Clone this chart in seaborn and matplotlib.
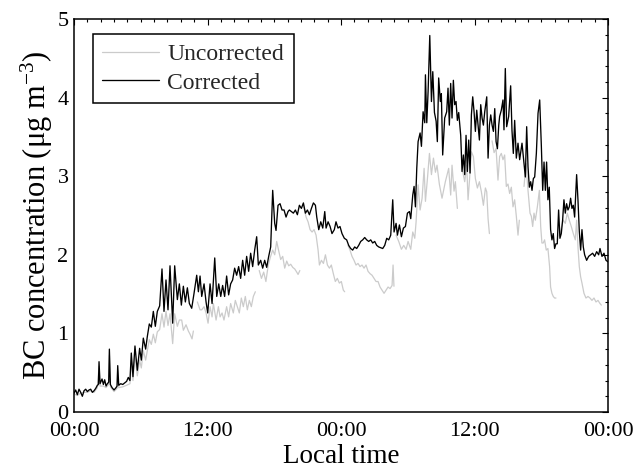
import numpy as np
import pandas as pd
import matplotlib
matplotlib.use("Agg")
import matplotlib.pyplot as plt
import seaborn as sns
from matplotlib.ticker import MultipleLocator, FixedLocator, FixedFormatter
from matplotlib.lines import Line2D

# ---------------- data (hours since first midnight, BC in ug m-3) ----------------
cor_hours = [
    0.00, 0.15, 0.30, 0.45, 0.60, 0.75, 0.90, 1.05, 1.20, 1.35, 1.50, 1.65, 1.80, 1.95,
    2.10, 2.19, 2.25, 2.34, 2.52, 2.64, 2.76, 2.88, 3.00, 3.12, 3.18, 3.27, 3.42, 3.60,
    3.78, 3.87, 3.93, 4.02, 4.20, 4.38, 4.55, 4.73, 4.88, 5.03, 5.15, 5.30, 5.48, 5.69,
    5.90, 6.05, 6.23, 6.44, 6.59, 6.77, 6.95, 7.13, 7.31, 7.49, 7.70, 7.91, 8.09, 8.27,
    8.45, 8.63, 8.87, 9.05, 9.29, 9.47, 9.65, 9.83, 10.01, 10.19, 10.37, 10.58, 10.79,
    11.03, 11.18, 11.33, 11.48, 11.69, 11.87, 12.02, 12.23, 12.41, 12.65, 12.83, 13.01,
    13.19, 13.36, 13.54, 13.72, 13.90, 14.08, 14.26, 14.44, 14.62, 14.80, 14.98, 15.16,
    15.34, 15.52, 15.70, 15.88, 16.06, 16.24, 16.42, 16.57, 16.78, 16.96, 17.14, 17.32,
    17.50, 17.68, 17.86, 18.04, 18.16, 18.34, 18.52, 18.70, 18.88, 19.06, 19.24, 19.36,
    19.54, 19.72, 19.90, 20.08, 20.26, 20.44, 20.62, 20.80, 20.98, 21.16, 21.34, 21.52,
    21.70, 21.82, 22.00, 22.18, 22.36, 22.54, 22.66, 22.84, 23.02, 23.19, 23.40, 23.55,
    23.73, 23.91, 24.09, 24.30, 24.51, 24.69, 24.87, 25.05, 25.23, 25.41, 25.59, 25.77,
    25.95, 26.13, 26.31, 26.49, 26.67, 26.85, 27.03, 27.21, 27.39, 27.57, 27.75, 27.93,
    28.11, 28.29, 28.47, 28.65, 28.77, 28.95, 29.07, 29.25, 29.43, 29.61, 29.79, 29.97,
    30.15, 30.27, 30.45, 30.57, 30.69, 30.81, 30.93, 31.11, 31.23, 31.38, 31.53, 31.59,
    31.71, 31.83, 31.98, 32.13, 32.25, 32.40, 32.55, 32.66, 32.78, 32.93, 33.02, 33.14,
    33.32, 33.50, 33.62, 33.74, 33.86, 33.98, 34.10, 34.22, 34.34, 34.46, 34.58, 34.76,
    34.88, 35.00, 35.12, 35.24, 35.36, 35.48, 35.60, 35.72, 35.84, 35.96, 36.08, 36.20,
    36.32, 36.44, 36.56, 36.68, 36.80, 36.92, 37.10, 37.22, 37.34, 37.46, 37.58, 37.70,
    37.82, 37.94, 38.06, 38.18, 38.26, 38.41, 38.56, 38.65, 38.77, 38.89, 39.07, 39.25,
    39.37, 39.49, 39.61, 39.76, 39.91, 40.06, 40.27, 40.45, 40.57, 40.69, 40.81, 40.93,
    41.05, 41.17, 41.29, 41.41, 41.56, 41.71, 41.86, 42.01, 42.13, 42.25, 42.37, 42.48,
    42.60, 42.72, 42.84, 42.96, 43.08, 43.20, 43.32, 43.44, 43.56, 43.68, 43.80, 43.92,
    44.04, 44.16, 44.28, 44.40, 44.52, 44.64, 44.76, 44.88, 45.00, 45.18, 45.30, 45.42,
    45.54, 45.66, 45.78, 45.90, 46.08, 46.26, 46.44, 46.62, 46.80, 46.98, 47.16, 47.28,
    47.46, 47.64, 47.82, 48.00,
]
cor_values = [
    0.24, 0.28, 0.22, 0.29, 0.25, 0.20, 0.27, 0.29, 0.26, 0.28, 0.29, 0.25, 0.27, 0.30,
    0.34, 0.35, 0.64, 0.36, 0.42, 0.35, 0.41, 0.33, 0.36, 0.38, 0.80, 0.35, 0.31, 0.28,
    0.31, 0.33, 0.59, 0.34, 0.36, 0.35, 0.37, 0.39, 0.44, 0.40, 0.75, 0.45, 0.84, 0.53,
    0.81, 0.66, 0.94, 0.80, 0.96, 1.12, 1.08, 1.28, 1.09, 1.28, 1.35, 1.82, 1.28, 1.68,
    1.30, 1.86, 1.13, 1.86, 1.43, 1.63, 1.36, 1.60, 1.40, 1.58, 1.38, 1.32, 1.51,
    1.74, 1.53, 1.73, 1.47, 1.63, 1.40, 1.26, 1.63, 1.38, 1.96, 1.47, 1.63,
    1.47, 1.61, 1.47, 1.73, 1.49, 1.63, 1.68, 1.83, 1.74, 1.85, 1.70, 1.93,
    1.74, 1.98, 1.79, 2.02, 1.85, 2.06, 2.23, 1.87, 1.93, 1.83, 1.93, 1.84,
    1.98, 2.10, 2.82, 2.40, 2.31, 2.63, 2.65, 2.57, 2.57, 2.48, 2.55, 2.57,
    2.55, 2.53, 2.57, 2.51, 2.63, 2.59, 2.66, 2.53, 2.57, 2.51, 2.59, 2.66,
    2.63, 2.48, 2.32, 2.42, 2.34, 2.55, 2.34, 2.42, 2.36, 2.27, 2.32, 2.42,
    2.34, 2.36, 2.27, 2.21, 2.19, 2.12, 2.08, 2.06, 2.10, 2.08, 2.12, 2.17,
    2.19, 2.22, 2.19, 2.17, 2.19, 2.15, 2.17, 2.12, 2.10, 2.09, 2.08, 2.12,
    2.21, 2.19, 2.25, 2.70, 2.29, 2.40, 2.25, 2.38, 2.23, 2.34, 2.36, 2.53,
    2.55, 2.46, 2.76, 2.87, 2.61, 3.10, 3.44, 3.55, 3.38, 3.82, 3.68, 4.29,
    3.68, 4.08, 4.79, 3.95, 4.33, 3.81, 3.70, 3.44, 4.25, 3.95, 4.05, 3.27,
    3.74, 3.82, 4.12, 3.65, 4.18, 3.74, 4.22, 3.91, 3.95, 3.71, 3.81, 3.52,
    3.06, 3.27, 3.02, 3.52, 3.06, 3.46, 3.04, 3.78, 4.01, 3.82, 3.57, 3.84,
    3.65, 3.46, 3.91, 3.74, 3.65, 3.82, 4.01, 3.23, 3.65, 3.78, 3.65, 3.57,
    3.86, 3.44, 3.35, 3.65, 3.76, 3.84, 3.97, 3.59, 4.37, 3.63, 3.76, 4.15,
    3.58, 3.29, 3.71, 3.23, 3.42, 3.21, 3.42, 3.16, 2.99, 3.63, 3.12, 2.86,
    2.93, 2.82, 2.97, 2.99, 3.29, 3.80, 3.97, 3.38, 2.82, 3.18, 2.82, 3.18,
    2.70, 2.86, 2.32, 2.19, 2.27, 2.08, 2.14, 2.14, 2.57, 2.21, 2.27, 2.44,
    2.70, 2.53, 2.65, 2.57, 2.61, 2.72, 2.59, 2.63, 2.48, 3.02, 2.70, 2.30,
    2.06, 2.32, 2.10, 2.00, 1.93, 1.98, 2.00, 2.02, 1.98, 2.04, 2.00, 2.08,
    1.98, 2.02, 1.93, 1.91,
]

# uncorrected: NaN marks the breaks between filter spots
nan = float("nan")
unc_hours = [
    0.00, 0.30, 0.60, 0.90, 1.20, 1.50, 1.80, 2.10, 2.25, 2.34, 2.64, 2.88, 3.12, 3.18,
    3.27, 3.60, 3.87, 3.93, 4.02, 4.38, 4.73, 5.03, 5.15, 5.30, 5.48, 5.69, 5.90, 6.05,
    6.23, 6.44, 6.59, 6.77, 6.95, 7.13, 7.31, 7.49, 7.70, 7.91, 8.09, 8.27, 8.45, 8.63,
    8.87, 9.05, 9.29, 9.47, 9.68, 9.83, 10.07, 10.28, 10.43, 10.61, 10.73, 10.85,
    11.09, 11.33, 11.48, 11.69, 11.87, 12.05, 12.23, 12.41, 12.53, 12.77, 12.98, 13.13,
    13.31, 13.48, 13.72, 13.90, 14.08, 14.32, 14.50, 14.68, 14.86, 15.04, 15.22, 15.40,
    15.58, 15.76, 15.94, 16.12, 16.30, 16.45,
    16.65, 16.85, 17.05, 17.25, 17.45, 17.65, 17.86, 18.04, 18.22, 18.40, 18.58, 18.76,
    18.94, 19.12, 19.30, 19.48, 19.66, 19.84, 20.02, 20.14, 20.30, 20.45,
    20.62, 20.86, 21.04, 21.22, 21.40, 21.58, 21.76, 21.94, 22.06, 22.24, 22.42, 22.60,
    22.78, 22.96, 23.13, 23.31, 23.49, 23.67, 23.85, 24.03, 24.21, 24.33, 24.45,
    24.63, 24.81, 24.99, 25.17, 25.35, 25.53, 25.71, 25.89, 26.07, 26.25, 26.43, 26.61,
    26.79, 26.97, 27.15, 27.33, 27.51, 27.69, 27.87, 28.05, 28.23, 28.41, 28.59, 28.68,
    28.76, 28.85,
    28.95, 29.19, 29.43, 29.64, 29.85, 30.03, 30.27, 30.45, 30.63, 30.75, 30.93, 31.11,
    31.29, 31.47, 31.59, 31.77, 31.95, 32.13, 32.31, 32.49, 32.63, 32.84, 33.08, 33.38,
    33.68, 33.86, 33.98, 34.16, 34.28, 34.46, 34.65,
    34.94, 35.12, 35.30, 35.42, 35.54, 35.72, 35.90, 36.08, 36.26, 36.44, 36.62, 36.80,
    36.98, 37.10, 37.22, 37.34, 37.45,
    37.58, 37.76, 37.94, 38.11, 38.26, 38.41, 38.56, 38.71, 38.86, 39.01, 39.16, 39.31,
    39.46, 39.61, 39.76, 39.91, 40.03, 40.15,
    40.45, 40.63, 40.81, 40.99, 41.11, 41.23, 41.35, 41.47, 41.65, 41.83, 41.95, 42.06,
    42.18, 42.30, 42.45, 42.60, 42.75, 42.84, 42.96, 43.08, 43.20, 43.32, 43.45,
    43.62, 43.80, 43.98, 44.16, 44.34, 44.52, 44.70, 44.88, 45.06, 45.18, 45.30, 45.42,
    45.54, 45.66, 45.84, 46.02, 46.20, 46.38, 46.56, 46.74, 46.92, 47.10, 47.28, 47.40,
]
unc_values = [
    0.23, 0.21, 0.24, 0.25, 0.25, 0.27, 0.25, 0.31, 0.58, 0.33, 0.33, 0.31, 0.35, 0.72,
    0.32, 0.26, 0.30, 0.53, 0.31, 0.32, 0.34, 0.36, 0.66, 0.40, 0.72, 0.46, 0.66, 0.56,
    0.78, 0.66, 0.78, 0.92, 0.86, 0.99, 0.88, 1.02, 1.05, 1.25, 1.08, 1.28, 1.10, 1.25,
    0.87, 1.25, 1.09, 1.17, 1.17, 1.04, 1.11, 1.03, 0.99, 0.93, 1.03, nan,
    1.40, 1.30, 1.30, 1.34, 1.26, 1.13, 1.34, 1.21, 1.38, 1.17, 1.34, 1.21,
    1.26, 1.17, 1.34, 1.21, 1.38, 1.26, 1.42, 1.34, 1.26, 1.45, 1.34, 1.47,
    1.30, 1.42, 1.34, 1.47, 1.53, nan,
    1.80, 1.70, 1.78, 1.66, 1.86, 1.97, 2.06, 2.00, 2.17, 2.05, 1.94, 1.98,
    1.83, 1.92, 1.86, 1.88, 1.84, 1.82, 1.78, 1.75, 1.80, nan,
    2.63, 2.48, 2.42, 2.32, 2.29, 2.32, 2.25, 2.06, 1.87, 1.93, 1.89, 2.00,
    1.87, 1.83, 1.87, 1.76, 1.66, 1.70, 1.64, 1.66, 1.55, 1.53, nan,
    2.12, 2.06, 1.98, 1.93, 1.87, 1.89, 1.85, 1.87, 1.83, 1.87, 1.79, 1.76,
    1.74, 1.70, 1.66, 1.66, 1.59, 1.55, 1.51, 1.55, 1.59, 1.57, 1.61, 1.87,
    1.60, nan,
    2.25, 2.17, 2.07, 2.12, 2.07, 2.17, 2.07, 2.29, 2.21, 2.42, 2.89, 2.57,
    2.72, 3.10, 2.68, 2.97, 3.29, 3.02, 3.23, 3.05, 3.14, 2.90, 2.72, 2.93,
    3.10, 2.76, 3.14, 2.81, 2.93, 2.59, nan,
    3.06, 2.93, 3.14, 2.70, 2.93, 3.31, 3.25, 2.97, 2.85, 2.93, 2.80, 2.63,
    2.85, 2.80, 2.46, 2.27, nan,
    3.45, 3.30, 3.35, 2.95, 3.25, 3.29, 3.21, 3.27, 2.87, 2.90, 2.78, 2.86,
    2.61, 2.70, 2.49, 2.25, 2.44, nan,
    2.87, 3.16, 2.82, 2.53, 2.49, 2.36, 2.53, 2.44, 2.61, 2.82, 2.36, 2.15,
    2.15, 2.19, 2.06, 2.08, 1.85, 1.59, 1.51, 1.47, 1.45, 1.45, nan,
    2.24, 2.34, 2.44, 2.40, 2.53, 2.44, 2.36, 2.27, 2.19, 2.44, 2.10, 1.85,
    1.72, 1.64, 1.51, 1.45, 1.47, 1.45, 1.42, 1.45, 1.40, 1.42, 1.38, 1.36,
]

series_labels = ["Uncorrected", "Corrected"]
x_ticks = [0, 12, 24, 36, 48]
x_tick_labels = ["00:00", "12:00", "00:00", "12:00", "00:00"]
y_ticks = [0, 1, 2, 3, 4, 5]

# ---------------- styling ----------------
sns.set_theme(style="white")
plt.rcParams["font.family"] = ["Liberation Serif", "DejaVu Serif"]
plt.rcParams["mathtext.fontset"] = "custom"
plt.rcParams["mathtext.rm"] = "Liberation Serif"
plt.rcParams["mathtext.it"] = "Liberation Serif:italic"
plt.rcParams["mathtext.bf"] = "Liberation Serif:bold"

GRAY = "#cbcbcb"

fig = plt.figure(figsize=(6.38, 4.69), dpi=100)
ax = fig.add_axes([74 / 638, 1 - 412 / 469, 534 / 638, 393 / 469])

unc = pd.DataFrame({"hours": unc_hours, "value": unc_values})
unc["segment"] = unc["value"].isna().cumsum()
unc = unc.dropna()
sns.lineplot(data=unc, x="hours", y="value", units="segment", estimator=None,
             sort=False, color=GRAY, lw=0.9, ax=ax)

cor = pd.DataFrame({"hours": cor_hours, "value": cor_values})
sns.lineplot(data=cor, x="hours", y="value", estimator=None, sort=False,
             color="black", lw=0.95, ax=ax)

ax.set_xlim(0, 48)
ax.set_ylim(0, 5)
ax.xaxis.set_major_locator(FixedLocator(x_ticks))
ax.xaxis.set_major_formatter(FixedFormatter(x_tick_labels))
ax.xaxis.set_minor_locator(MultipleLocator(1.2))
ax.yaxis.set_major_locator(FixedLocator(y_ticks))
ax.yaxis.set_minor_locator(MultipleLocator(0.2))

ax.tick_params(which="both", direction="in", top=True, right=True,
               color="black", labelcolor="black", labelsize=16, width=0.8)
ax.tick_params(which="major", length=4)
ax.tick_params(which="minor", length=2.2)
ax.tick_params(axis="x", which="major", pad=7.5)
ax.tick_params(axis="y", which="major", pad=4)
for s in ax.spines.values():
    s.set_visible(True)
    s.set_color("black")
    s.set_linewidth(1.1)

ax.set_xlabel("Local time", fontsize=19.5, color="black", labelpad=2)
ax.set_ylabel(r"BC concentration (μg m$^{\mathregular{-3}}$)", fontsize=22,
              color="black", labelpad=2)

handles = [Line2D([], [], color=GRAY, lw=0.9), Line2D([], [], color="black", lw=0.95)]
leg = ax.legend(handles, series_labels, loc="upper left",
                bbox_to_anchor=(19 / 534, (412 - 34) / 393), borderaxespad=0,
                fancybox=False, framealpha=1, edgecolor="black", fontsize=17,
                handlelength=2.4, handletextpad=0.35, borderpad=0.4,
                labelspacing=0.3)
leg.get_frame().set_linewidth(1.1)

fig.savefig("out.png", dpi=100)
